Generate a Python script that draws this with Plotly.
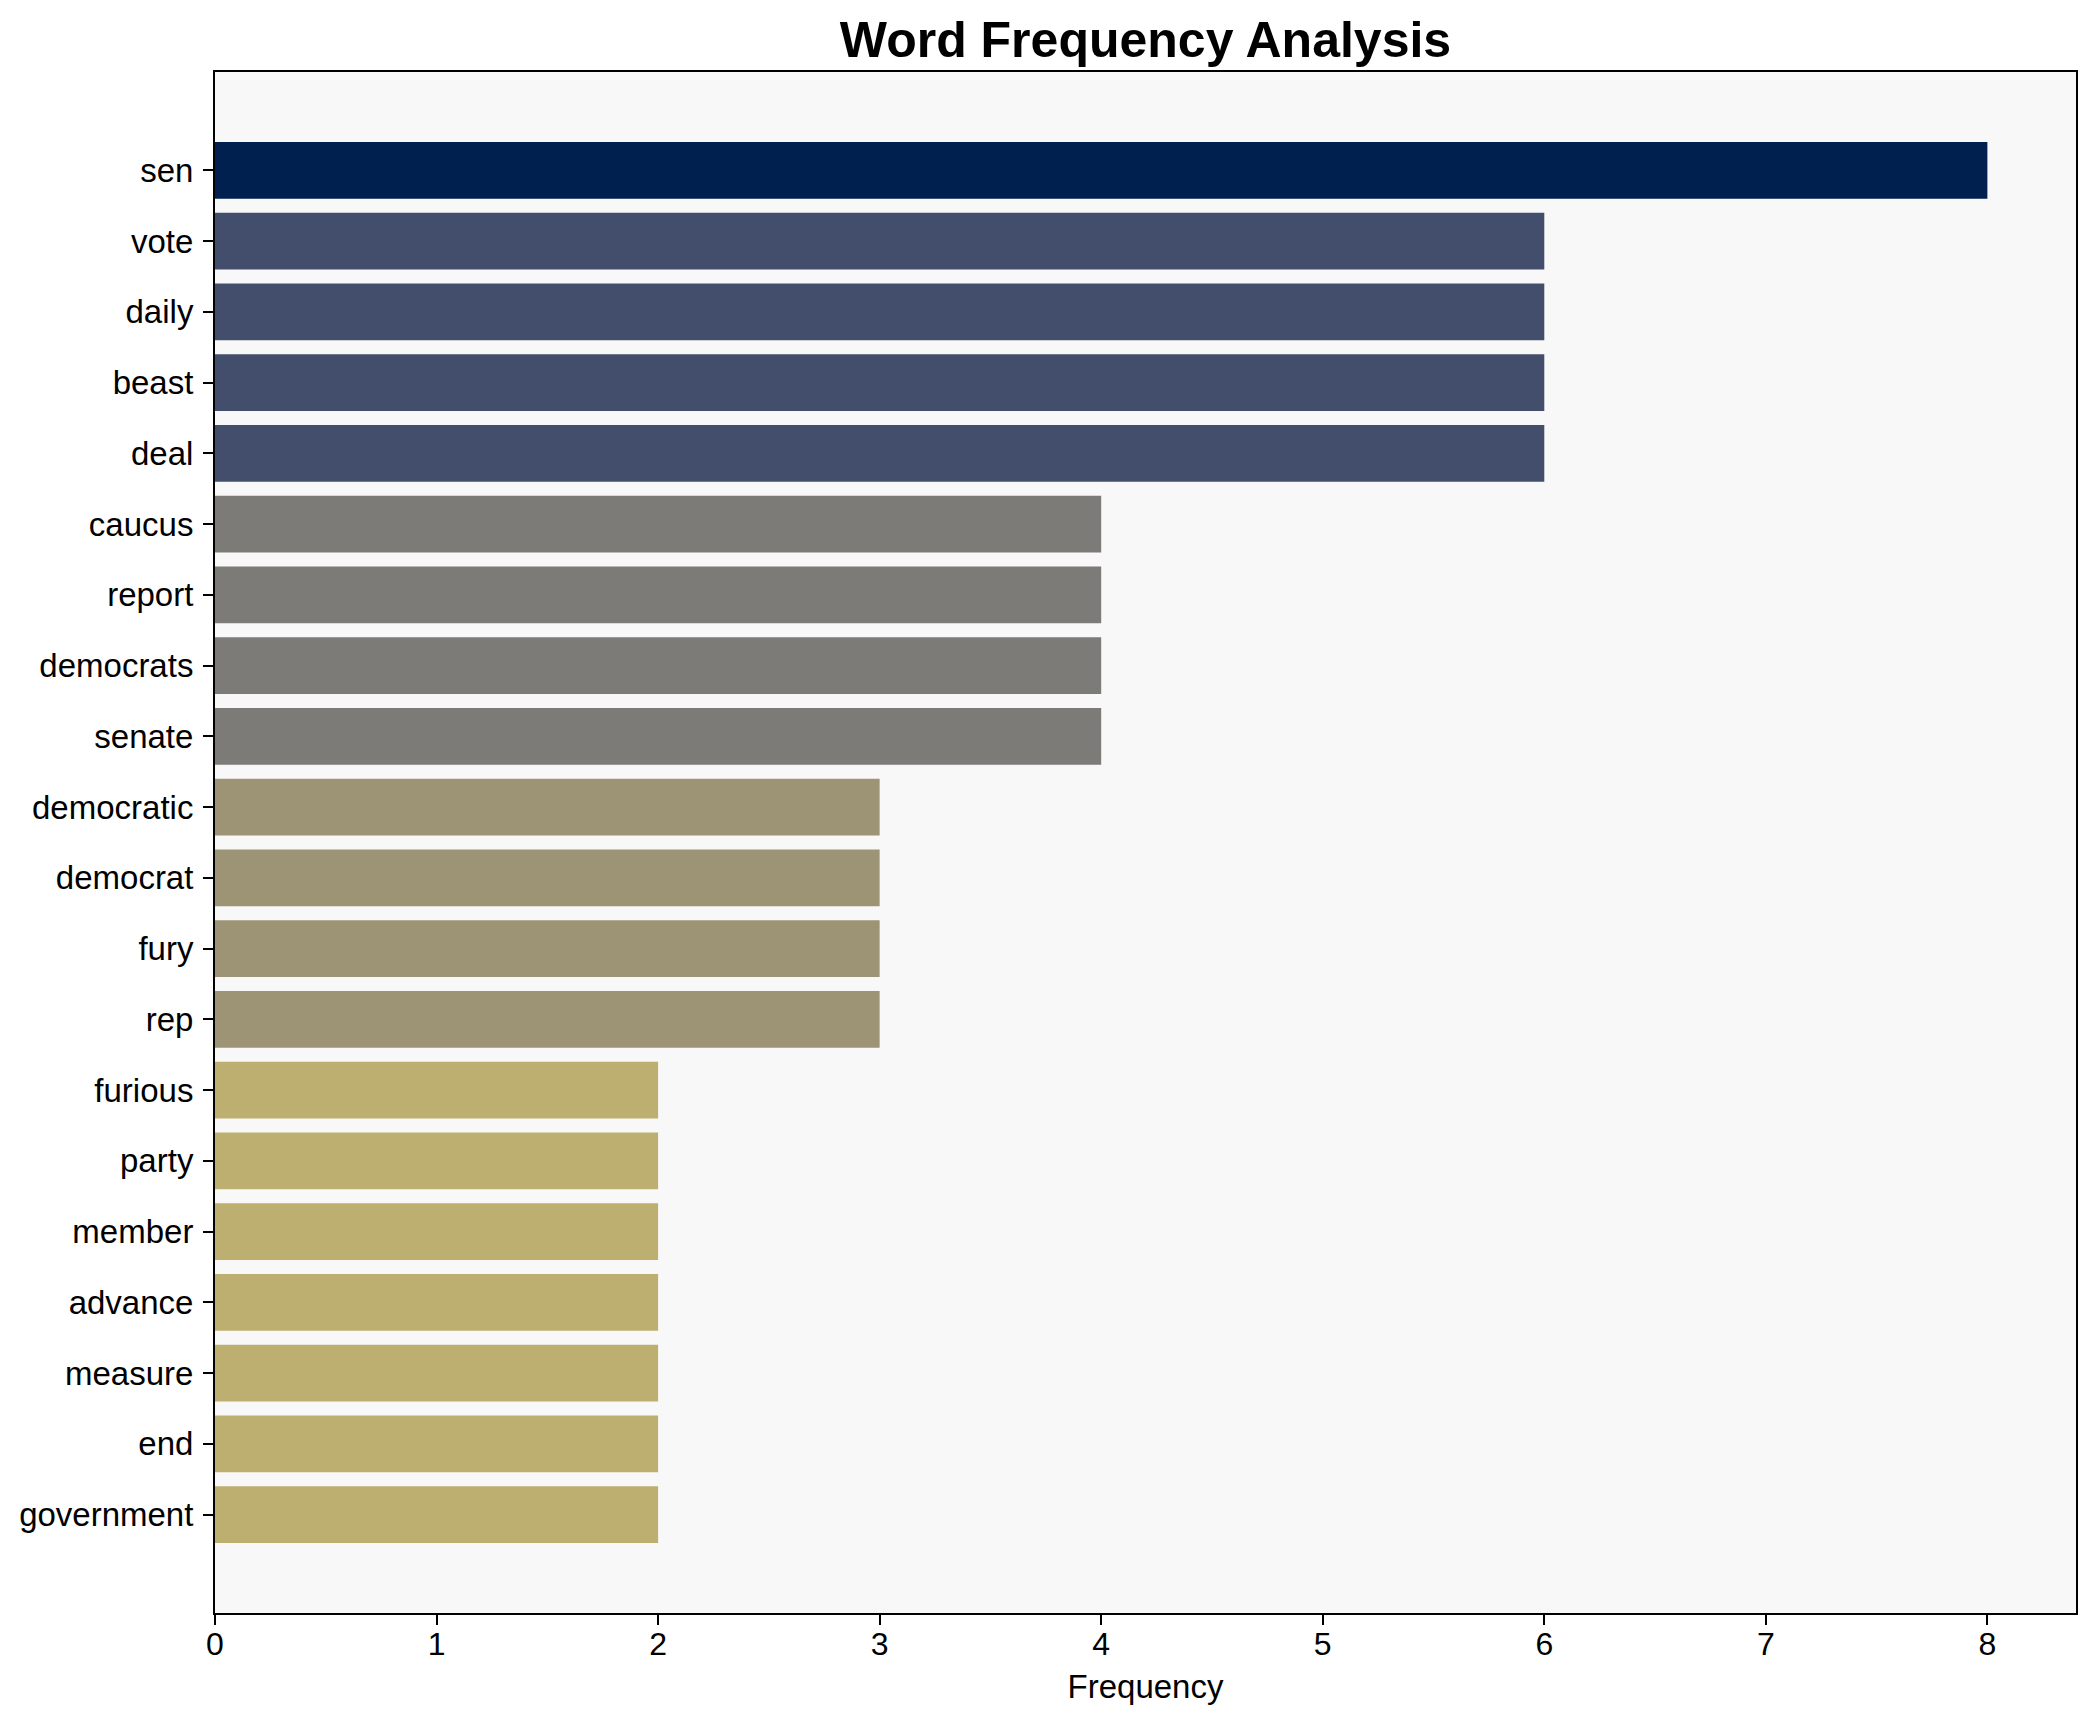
import plotly.graph_objects as go

words = ["sen", "vote", "daily", "beast", "deal", "caucus", "report", "democrats",
         "senate", "democratic", "democrat", "fury", "rep", "furious", "party",
         "member", "advance", "measure", "end", "government"]
frequencies = [8, 6, 6, 6, 6, 4, 4, 4, 4, 3, 3, 3, 3, 2, 2, 2, 2, 2, 2, 2]

# colour per frequency level (reversed cividis look)
level_colors = {8: "#00214f", 6: "#434e6c", 4: "#7c7b78", 3: "#9c9474", 2: "#bcaf6f"}
bar_colors = [level_colors[v] for v in frequencies]

FONT = "Liberation Sans, Arial, sans-serif"

fig = go.Figure(
    go.Bar(
        x=frequencies,
        y=words,
        orientation="h",
        width=0.8,
        marker=dict(color=bar_colors, line=dict(width=0)),
        hoverinfo="x+y",
    )
)

W, H = 2079, 1706
n = len(words)
fig.update_layout(
    width=W,
    height=H,
    margin=dict(l=207, r=9, t=64, b=101),
    paper_bgcolor="white",
    plot_bgcolor="#f8f8f8",
    showlegend=False,
    font=dict(family=FONT, size=33, color="black"),
    title=dict(
        text="<b>Word Frequency Analysis</b>",
        font=dict(family=FONT, size=50, color="black"),
        x=0.5,
        xanchor="center",
        xref="paper",
        yref="container",
        y=1 - 31 / H,
        yanchor="middle",
    ),
    xaxis=dict(
        range=[0, 8.4],
        tickmode="linear",
        tick0=0,
        dtick=1,
        ticks="outside",
        ticklen=10,
        tickwidth=1.6,
        tickcolor="black",
        ticklabelstandoff=-8,
        tickfont=dict(size=32),
        showgrid=False,
        zeroline=False,
        showline=True,
        linecolor="black",
        linewidth=2,
        mirror=True,
        title=dict(text="Frequency", font=dict(size=33), standoff=13),
    ),
    yaxis=dict(
        type="category",
        categoryorder="array",
        categoryarray=words,
        range=[n - 1 + 0.4 + 0.99, -0.4 - 0.99],
        ticks="outside",
        ticklen=10,
        tickwidth=1.6,
        tickcolor="black",
        ticklabelstandoff=3,
        tickfont=dict(size=33),
        showgrid=False,
        zeroline=False,
        showline=True,
        linecolor="black",
        linewidth=2,
        mirror=True,
    ),
)

fig.write_html("out.html")
